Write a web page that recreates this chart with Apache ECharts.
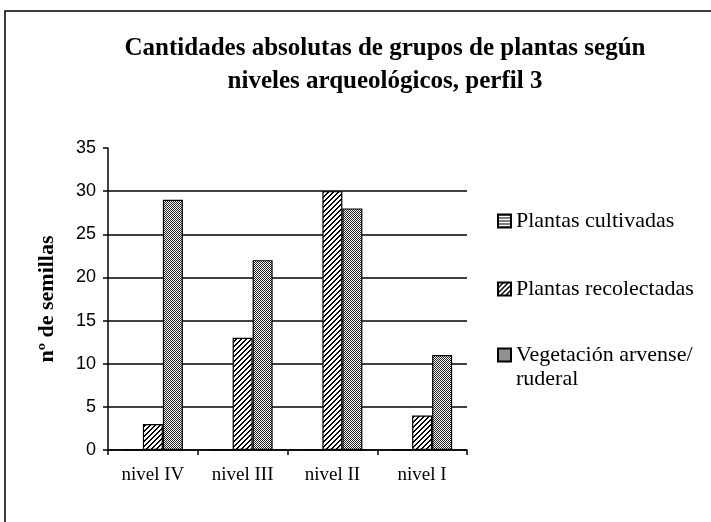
<!DOCTYPE html>
<html>
<head>
<meta charset="utf-8">
<script src="https://cdn.jsdelivr.net/npm/echarts@6/dist/echarts.min.js"></script>
<style>html,body{margin:0;padding:0;background:#fff}#c{width:711px;height:522px}</style>
</head>
<body>
<div id="c"></div>
<script>
var categories = ['nivel IV', 'nivel III', 'nivel II', 'nivel I'];
var cultivadas = [0, 0, 0, 0];
var recolectadas = [3, 13, 30, 4];
var arvense = [29, 22, 28, 11];
var seriesNames = ['Plantas cultivadas', 'Plantas recolectadas', 'Vegetación arvense/ ruderal'];
var yTicks = [0, 5, 10, 15, 20, 25, 30, 35];

function makePattern(kind) {
  var c = document.createElement('canvas');
  var ctx = c.getContext('2d');
  if (kind === 'h') {
    c.width = 4; c.height = 3;
    ctx.fillStyle = '#fff'; ctx.fillRect(0, 0, 4, 3);
    ctx.fillStyle = '#000'; ctx.fillRect(0, 0, 4, 1);
  } else if (kind === 'd') {
    c.width = 5; c.height = 5;
    ctx.fillStyle = '#fff'; ctx.fillRect(0, 0, 5, 5);
    ctx.fillStyle = '#000';
    for (var i = 0; i < 5; i++) {
      ctx.fillRect(i, 4 - i, 1, 1);
      ctx.fillRect((i + 1) % 5, 4 - i, 1, 1);
    }
  } else {
    c.width = 2; c.height = 2;
    ctx.fillStyle = '#fff'; ctx.fillRect(0, 0, 2, 2);
    ctx.fillStyle = '#222'; ctx.fillRect(0, 0, 1, 1); ctx.fillRect(1, 1, 1, 1);
  }
  return { image: c, repeat: 'repeat' };
}

var patterns = [makePattern('h'), makePattern('d'), makePattern('c')];
var values = [cultivadas, recolectadas, arvense];

var chart = echarts.init(document.getElementById('c'));
var legendFont = { fontFamily: 'Liberation Serif', fontSize: 22, lineHeight: 24, color: '#000' };
function legendCfg(name, top, extra) {
  return Object.assign({
    data: [name], left: 492, top: top, icon: 'rect', itemWidth: 13, itemHeight: 13,
    itemGap: 0, selectedMode: false, textStyle: legendFont
  }, extra || {});
}
chart.setOption({
  animation: false,
  backgroundColor: '#fff',
  title: {
    text: 'Cantidades absolutas de grupos de plantas según\nniveles arqueológicos, perfil 3',
    left: 380, top: 27, textAlign: 'center',
    textStyle: { fontFamily: 'Liberation Serif', fontWeight: 'bold', fontSize: 25, lineHeight: 33, color: '#000' }
  },
  graphic: [{
    type: 'rect', shape: { x: 5, y: 11, width: 800, height: 600 },
    style: { fill: 'none', stroke: '#000', lineWidth: 1.5 }, silent: true
  }],
  legend: [
    legendCfg(seriesNames[0], 204),
    legendCfg(seriesNames[1], 272),
    legendCfg(seriesNames[2], 314, {
      formatter: function () { return ' \nVegetación arvense/\nruderal'; }
    })
  ],
  grid: { left: 108, right: 244, top: 148, bottom: 72 },
  xAxis: {
    type: 'category', data: categories,
    axisLine: { lineStyle: { color: '#000', width: 1.5 } },
    axisTick: { show: true, length: 5, lineStyle: { color: '#000', width: 1.5 } },
    axisLabel: { fontFamily: 'Liberation Serif', fontSize: 19, color: '#000', margin: 16 }
  },
  yAxis: {
    type: 'value', min: 0, max: 35, interval: 5,
    name: 'nº de semillas', nameLocation: 'middle', nameGap: 50,
    nameTextStyle: { fontFamily: 'Liberation Serif', fontWeight: 'bold', fontSize: 22, color: '#000' },
    axisLine: { show: true, lineStyle: { color: '#000', width: 1.5 } },
    axisTick: { show: true, length: 5, lineStyle: { color: '#000', width: 1.5 } },
    axisLabel: { fontFamily: 'Liberation Sans', fontSize: 18, color: '#000', margin: 12 },
    splitLine: { show: true, showMaxLine: false, lineStyle: { color: '#000', width: 1.5 } }
  },
  series: seriesNames.map(function (n, i) {
    return {
      name: n, type: 'bar', data: values[i],
      barWidth: 20, barGap: '0%',
      itemStyle: { color: patterns[i], borderColor: '#000', borderWidth: 1.2 }
    };
  })
});
</script>
</body>
</html>
